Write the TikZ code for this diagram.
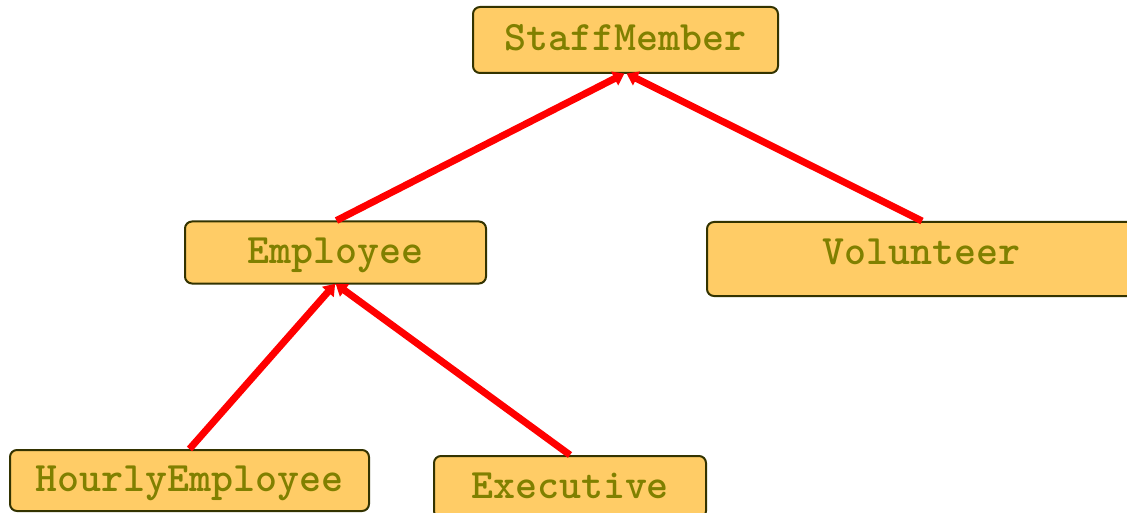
\documentclass[tikz,border=0pt]{standalone}
\usepackage{fontspec}
\usetikzlibrary{arrows.meta}
\definecolor{boxfill}{HTML}{FFCC66}
\definecolor{boxline}{HTML}{333300}
\definecolor{classtext}{HTML}{808000}
\definecolor{linkred}{HTML}{FF0000}
\tikzset{
  classbox/.style={draw=boxline, line width=2pt, fill=boxfill, rounded corners=7pt,
    inner sep=0pt, text height=22pt, text depth=0pt, text=classtext,
    font=\ttfamily\bfseries\fontsize{41.9}{44}\selectfont},
  inherit/.style={draw=linkred, line width=7pt,
    -{Triangle[length=11pt,width=15pt]}, shorten >=-1pt}
}
\begin{document}
\begin{tikzpicture}[x=1pt,y=-1pt]
  \useasboundingbox (0,0) rectangle (1127,513);
  \node[classbox, minimum width=305pt, minimum height=66pt] (staff) at (625.5,40) {StaffMember};
  \node[classbox, minimum width=301pt, minimum height=62pt] (emp) at (335.5,252.5) {Employee};
  \node[classbox, minimum width=428pt, minimum height=74pt, text depth=11pt] (vol) at (921,259) {Volunteer};
  \node[classbox, minimum width=359pt, minimum height=61pt] (hourly) at (189.5,480.5) {HourlyEmployee};
  \node[classbox, minimum width=272pt, minimum height=62pt] (exec) at (570,487) {Executive};

  \draw[inherit] ([xshift=1pt]emp.north) -- ([xshift=-2pt]staff.south);
  \draw[inherit] ([xshift=1pt]vol.north) -- ([xshift=2pt]staff.south);
  \draw[inherit] (hourly.north) -- ([xshift=-1pt]emp.south);
  \draw[inherit] (exec.north) -- ([xshift=1pt]emp.south);
\end{tikzpicture}
\end{document}
